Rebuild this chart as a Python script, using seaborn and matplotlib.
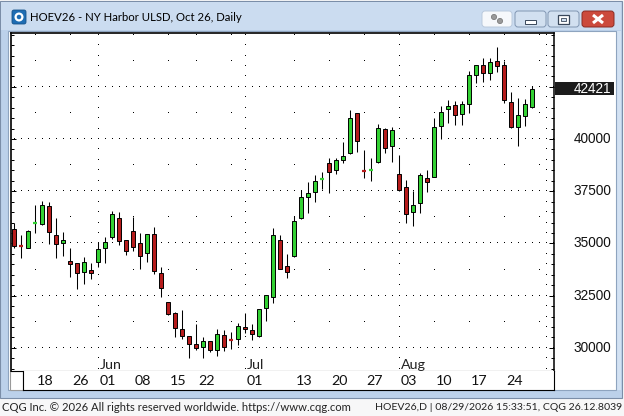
import numpy as np
import pandas as pd
import matplotlib
matplotlib.use("Agg")
import matplotlib.pyplot as plt
import matplotlib.patches as mpatches
from matplotlib.ticker import MultipleLocator
import seaborn as sns

# HOEV26 daily bars, 13 May - 28 Aug 2026 (trading days only)
opens = [35680, 34910, 34800, 35980, 35920, 36780, 35390, 35010, 34160, 34050,
         33620, 33730, 34100, 34770, 35330, 36210, 35150, 35580, 35040, 34530,
         35450, 33590, 32190, 31690, 30890, 30560, 30190, 30060, 30320, 29900,
         30600, 30400, 30410, 31000, 30860, 30590, 31900, 32450, 35170, 33920,
         34390, 36200, 37240, 37450, 38090, 38840, 38510, 39010, 39320, 41240,
         38480, 38480, 38890, 40470, 39650, 38310, 37700, 36520, 36950, 38120,
         38200, 40640, 41430, 41620, 41190, 41670, 43060, 43540, 43150, 43730,
         43540, 41760, 40590, 41090, 41550]
highs = [35970, 35410, 35620, 36840, 37040, 36990, 36210, 35540, 34770, 34080,
         34340, 34050, 35090, 35330, 36560, 36490, 35170, 36280, 35490, 35470,
         35800, 33860, 32200, 31700, 31810, 30570, 31160, 30510, 30330, 30920,
         30860, 30760, 31180, 31670, 31140, 31860, 32540, 35730, 35410, 34500,
         36320, 37560, 37960, 38280, 38440, 39080, 39080, 39880, 41390, 41250,
         39480, 39080, 40720, 40550, 40570, 39240, 38040, 37510, 38390, 38520,
         41000, 41590, 41870, 41840, 41820, 43260, 43550, 43870, 43900, 44430,
         43740, 42240, 41950, 41910, 42540]
lows = [34800, 34320, 34780, 35520, 35890, 34960, 34320, 34400, 33410, 32820,
        33050, 33300, 33890, 34050, 35220, 34910, 34450, 34650, 33780, 34130,
        33540, 32450, 31550, 30530, 30440, 29500, 29900, 29530, 29820, 29610,
        29850, 29950, 30140, 30700, 30380, 30530, 31300, 32140, 33780, 33360,
        34370, 36180, 36480, 37000, 37610, 37400, 38310, 38870, 39300, 39400,
        38120, 38010, 38870, 39350, 38920, 37510, 35970, 35850, 36480, 37480,
        38180, 39990, 40790, 40660, 40680, 41240, 42670, 42720, 42830, 43200,
        41710, 40520, 39680, 40640, 41500]
closes = [34890, 34880, 35600, 36000, 36840, 35540, 34960, 35150, 34000, 33600,
          34110, 33570, 34750, 35070, 36400, 35120, 34660, 34850, 34420, 35450,
          33700, 32850, 31640, 30930, 30580, 30160, 29980, 30320, 29880, 30650,
          30040, 30390, 31050, 30890, 30650, 31850, 32520, 35390, 33790, 33620,
          36080, 37210, 37400, 37990, 38110, 38410, 38990, 39190, 41000, 39890,
          38460, 38500, 40520, 39560, 40430, 37540, 36400, 36840, 38280, 37960,
          40570, 41280, 41570, 41140, 41680, 43060, 43540, 43150, 43680, 43500,
          41860, 40570, 41140, 41670, 42421]

# date axis (bar index -> label)
tick_pos = [3, 8, 12, 17, 22, 26, 33, 40, 45, 50, 55, 60, 65, 70]
tick_labels = ["18", "26", "01", "08", "15", "22", "01", "13", "20", "27",
               "03", "10", "17", "24"]
month_pos = [12, 33, 55, 76]
month_labels = ["Jun", "Jul", "Aug"]
week_pos = [3, 8, 17, 22, 26, 31, 40, 45, 50, 60, 65, 70, 75]
price_ticks = [30000, 32500, 35000, 37500, 40000, 42500]

title = "HOEV26 - NY Harbor ULSD, Oct 26, Daily"
footer_left = "CQG Inc. \u00a9 2026 All rights reserved worldwide. https://www.cqg.com"
footer_right = "HOEV26,D | 08/29/2026 15:33:51, CQG 26.12.8039"

df = pd.DataFrame({"open": opens, "high": highs, "low": lows, "close": closes})
df["day"] = np.arange(len(df))
df["lo"] = df[["open", "close"]].min(axis=1)
df["hi"] = df[["open", "close"]].max(axis=1)
df["up"] = df["close"] >= df["open"]
df["doji"] = (df["hi"] - df["lo"]) < 60

sns.set_theme(style="white")
plt.rcParams["font.family"] = ["Lato", "DejaVu Sans"]

GREEN = "#33d133"
RED = "#b61c1c"
W, H = 624, 416

fig = plt.figure(figsize=(W / 100, H / 100), dpi=100)
fig.patch.set_facecolor("#f7f7f8")
renderer = fig.canvas.get_renderer()


def fit_width(texts, sample, target_px):
    # scale font so that the sample text is target_px wide
    w = sample.get_window_extent(renderer=renderer).width
    for t in texts:
        t.set_fontsize(t.get_fontsize() * target_px / w)


# window chrome, in pixel coordinates
chrome = fig.add_axes([0, 0, 1, 1])
chrome.set_xlim(0, W)
chrome.set_ylim(H, 0)
chrome.axis("off")
chrome.add_patch(mpatches.Rectangle((0, 1), 622, 397, fc="#bcd1ea", ec="#7b8ea8", lw=0.8))
chrome.add_patch(mpatches.Rectangle((1, 2), 620, 28, fc="#cbdcf0", ec="none"))
chrome.add_patch(mpatches.Rectangle((617, 31), 4, 359, fc="#d3e2f3", ec="none"))
chrome.add_patch(mpatches.Rectangle((8, 31), 608, 359, fc="white", ec="#8ea4bf", lw=0.8))
chrome.add_patch(mpatches.Rectangle((10, 371), 13, 18.5, fc="white", ec="#9a9a9a", lw=0.8))

chrome.add_patch(mpatches.FancyBboxPatch((12, 10), 14, 14, boxstyle="round,pad=0,rounding_size=2",
                                         fc="#1e6db3", ec="#15528a", lw=0.6))
chrome.add_patch(mpatches.Circle((19, 17), 3.4, fc="none", ec="white", lw=1.6))
t_title = chrome.text(30, 17.5, title, fontsize=9, va="center", ha="left", color="black")
fit_width([t_title], t_title, 213)

chrome.add_patch(mpatches.FancyBboxPatch((482, 11), 30, 16, boxstyle="round,pad=0,rounding_size=3",
                                         fc="#f6f8fb", ec="#b9c9dc", lw=0.7))
chrome.add_patch(mpatches.Circle((494, 17), 2.6, fc="#9a9a9a", ec="#707070", lw=0.5))
chrome.add_patch(mpatches.Circle((500, 21), 2.6, fc="#9a9a9a", ec="#707070", lw=0.5))
for bx in (515, 548):
    chrome.add_patch(mpatches.FancyBboxPatch((bx, 11), 31, 16, boxstyle="round,pad=0,rounding_size=3",
                                             fc="#d2e0f0", ec="#8196b2", lw=0.7))
chrome.add_patch(mpatches.Rectangle((525, 19.5), 11, 4, fc="white", ec="#39475a", lw=0.7))
chrome.add_patch(mpatches.Rectangle((558, 14.5), 11, 9, fc="white", ec="#39475a", lw=0.9))
chrome.add_patch(mpatches.Rectangle((561, 17.5), 5, 3, fc="#d2e0f0", ec="#39475a", lw=0.6))
chrome.add_patch(mpatches.FancyBboxPatch((582, 11), 32, 16, boxstyle="round,pad=0,rounding_size=3",
                                         fc="#cc4a3c", ec="#8b2b22", lw=0.7))
chrome.plot([593, 603], [15, 23], color="white", lw=2.2, solid_capstyle="butt")
chrome.plot([593, 603], [23, 15], color="white", lw=2.2, solid_capstyle="butt")

t_fl = chrome.text(2, 407.5, footer_left, fontsize=8, va="center", ha="left", color="#222222")
t_fr = chrome.text(622, 407.5, footer_right, fontsize=8, va="center", ha="right", color="#222222")
fit_width([t_fl], t_fl, 350)
fit_width([t_fr], t_fr, 247)

# price panel
PX0, PXD = 14.0, 7.0          # pixel x of bar 0, pixels per bar
L, R, T, B = 10.5, 554.0, 33.0, 371.0


def px_to_day(px):
    return (px - PX0) / PXD


ax = fig.add_axes([L / W, (H - B) / H, (R - L) / W, (B - T) / H])
ax.set_facecolor("white")
ax.set_xlim(px_to_day(L), px_to_day(R))
ax.set_ylim(28890, 45080)

# dotted grid
gx, gy = np.meshgrid(np.arange(0, 78), price_ticks)
ax.plot(gx.ravel(), gy.ravel(), ls="none", marker=",", color="black", zorder=1)
wx, wy = np.meshgrid(week_pos, np.arange(28750, 45001, 1250))
ax.plot(wx.ravel(), wy.ravel(), ls="none", marker=",", color="black", zorder=1)
mx, my = np.meshgrid(month_pos, np.arange(29000, 45001, 500))
ax.plot(mx.ravel(), my.ravel(), ls="none", marker=",", color="black", zorder=1)

# candles
colors = np.where(df["up"], GREEN, RED)
ax.vlines(df["day"], df["low"], df["high"], color="black", lw=0.75, zorder=3)
body = df[~df["doji"]]
ax.bar(body["day"], body["hi"] - body["lo"], bottom=body["lo"], width=0.62,
       color=colors[~df["doji"].values], edgecolor="black", linewidth=0.7, zorder=4)
dj = df[df["doji"]]
ax.hlines(dj["close"], dj["day"] - 0.33, dj["day"] + 0.33,
          colors=colors[df["doji"].values], lw=1.6, zorder=5)

month_texts = [ax.text(pos + 0.3, 0.018, lab, transform=ax.get_xaxis_transform(),
                       fontsize=9.5, ha="left", va="center", color="#222222")
               for pos, lab in zip(month_pos, month_labels)]
fit_width(month_texts, month_texts[0], 22)

ax.set_xticks([])
ax.set_yticks(price_ticks)
ax.yaxis.set_minor_locator(MultipleLocator(500))
ax.tick_params(axis="y", which="both", direction="in", left=True, right=True,
               labelleft=False, labelright=False, color="black", width=0.72)
ax.tick_params(axis="y", which="major", length=3.6)
ax.tick_params(axis="y", which="minor", length=2.2)
for side, lw in (("top", 1.2), ("left", 1.2), ("right", 1.1), ("bottom", 0.8)):
    ax.spines[side].set_color("black")
    ax.spines[side].set_linewidth(lw)

lab_x = (611 - L) / (R - L)
last = closes[-1]
price_texts = []
for p in price_ticks:
    if abs(p - last) < 400:
        continue  # hidden behind the last-price box
    price_texts.append(ax.text(lab_x, p, str(p), transform=ax.get_yaxis_transform(),
                               ha="right", va="center", fontsize=9, family="Liberation Sans",
                               color="#111111", clip_on=False, zorder=2))

box_w = (613 - R) / (R - L)
ax.add_patch(mpatches.Rectangle((1.002, last - 320), box_w, 640, transform=ax.get_yaxis_transform(),
                                fc="#1c1c1c", ec="none", clip_on=False, zorder=6))
price_texts.append(ax.text(lab_x, last, str(last), transform=ax.get_yaxis_transform(),
                           ha="right", va="center", fontsize=9, family="Liberation Sans",
                           color="white", clip_on=False, zorder=7))
fit_width(price_texts, price_texts[0], 38)

# date row
DL, DB = 23.0, 389.5
dax = fig.add_axes([DL / W, (H - DB) / H, (R - DL) / W, (DB - B) / H])
dax.set_facecolor("white")
dax.set_xlim(px_to_day(DL), px_to_day(R))
dax.set_ylim(0, 1)
dax.set_yticks([])
dax.set_xticks(tick_pos)
dax.tick_params(axis="x", direction="in", length=(DB - B) * 0.72, width=0.72,
                color="black", labelbottom=False)
date_texts = [dax.text(pos + 0.3, 0.47, lab, fontsize=9.5, ha="left", va="center", color="#111111")
              for pos, lab in zip(tick_pos, tick_labels)]
for t in date_texts:
    t.set_fontsize(month_texts[0].get_fontsize())
for side in dax.spines:
    dax.spines[side].set_color("black")
    dax.spines[side].set_linewidth(0.8)
dax.spines["top"].set_visible(False)

fig.savefig("out.png", dpi=100, facecolor=fig.get_facecolor())
